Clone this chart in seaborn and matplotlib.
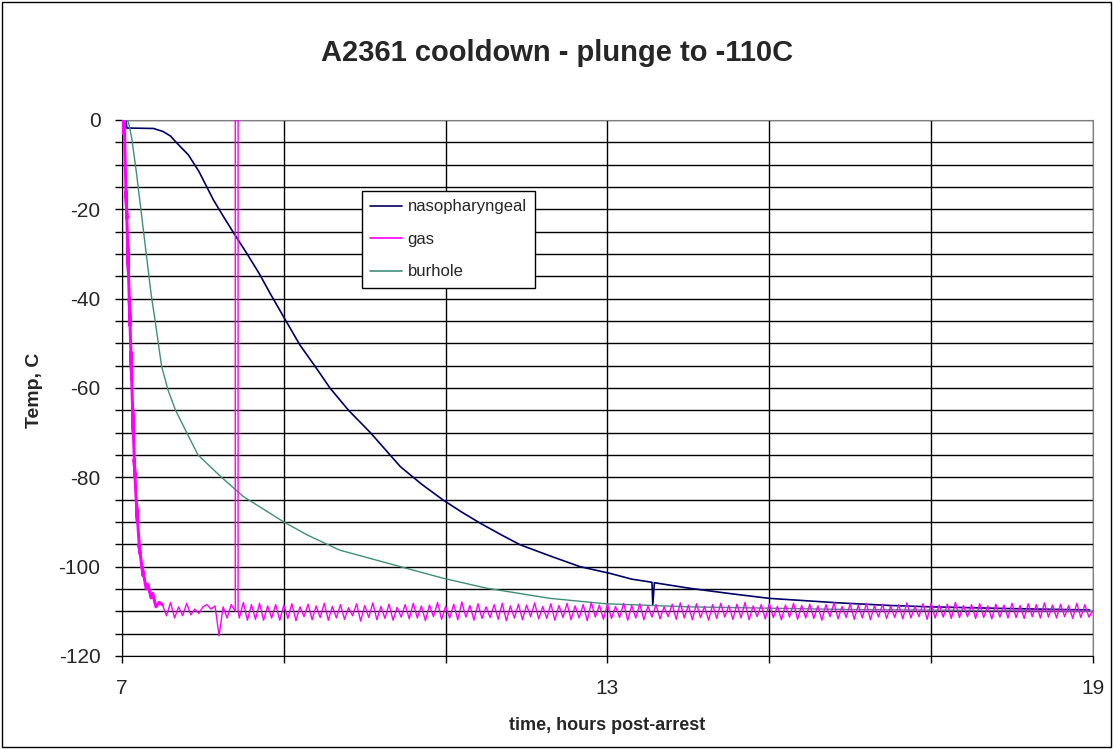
import numpy as np
import pandas as pd
import matplotlib
matplotlib.use("Agg")
import matplotlib.pyplot as plt
import seaborn as sns
from matplotlib.patches import Rectangle

# ---------------- data ----------------
TITULO = "A2361 cooldown - plunge to -110C"

naso_t = [7.02, 7.03, 7.05, 7.06, 7.39, 7.51, 7.60, 7.68, 7.82, 7.95, 8.13, 8.25,
          8.37, 8.54, 8.70, 8.83, 9.04, 9.20, 9.40, 9.57, 9.80, 10.07, 10.44, 10.70,
          10.97, 11.20, 11.43, 11.70, 11.92, 12.29, 12.66, 13.03, 13.30, 13.55, 13.56,
          13.58, 14.00, 14.50, 15.00, 15.85, 16.50, 17.00, 18.00, 18.96]
naso_v = [-1.0, 0.0, 0.0, -1.8, -1.9, -2.6, -3.6, -5.2, -7.8, -11.5, -17.9, -21.5,
          -25.0, -29.8, -34.5, -38.8, -45.4, -50.4, -55.5, -60.0, -65.0, -70.0, -77.6, -81.5,
          -85.1, -87.8, -90.3, -93.0, -95.1, -97.6, -100.0, -101.5, -102.8, -103.5, -108.6,
          -103.6, -104.8, -106.0, -107.1, -108.1, -108.7, -109.0, -109.4, -109.7]

bur_t = [7.05, 7.08, 7.12, 7.18, 7.24, 7.30, 7.36, 7.41, 7.49, 7.57, 7.66, 7.80, 7.94,
         8.23, 8.50, 9.00, 9.30, 9.69, 10.44, 10.97, 11.50, 12.29, 12.97, 14.00, 16.00, 19.00]
bur_v = [0.0, -0.5, -4.0, -12.0, -21.0, -30.0, -39.0, -45.0, -55.2, -60.5, -64.9, -70.0, -75.0,
         -80.0, -84.3, -90.0, -93.0, -96.3, -100.0, -102.6, -104.8, -107.1, -108.3, -109.0, -109.6, -110.0]

# gas: fast plunge at the start (noisy, so it reads as a thick band)
gas_head_t = [7.00, 7.01, 7.02, 7.03, 7.04, 7.06, 7.05, 7.08, 7.07, 7.10, 7.09, 7.12, 7.11,
              7.14, 7.13, 7.16, 7.15, 7.19, 7.18, 7.22, 7.21, 7.26, 7.25, 7.30, 7.32, 7.36,
              7.38, 7.42, 7.46]
gas_head_v = [-3.0, 0.0, -1.0, 0.0, -10.0, -22.0, -16.0, -34.0, -28.0, -46.0, -40.0, -58.0, -52.0,
              -70.0, -64.0, -80.0, -76.0, -90.0, -86.0, -97.0, -95.0, -102.0, -100.0, -105.0, -104.0, -107.0,
              -106.0, -109.0, -108.0]

# gas: logger noise from 7.50 h to 19.00 h, one reading every 0.05 h
gas_noise_start = 7.50
gas_noise_step = 0.05
gas_noise_v = [
    -108.5, -111.0, -108.0, -111.5, -109.0, -111.0, -108.2, -110.8, -109.5, -110.5,
    -109.0, -108.5, -109.5, -108.8, -115.5, -109.0, -111.5, -108.5, -110.0, -111.5,
    -108.0, -112.0, -108.5, -111.8, -108.2, -112.0, -108.8, -111.5, -108.5, -112.0,
    -108.6, -111.6, -108.3, -112.1, -109.0, -111.2, -108.4, -111.9, -108.8, -111.4,
    -108.2, -112.0, -108.9, -111.5, -108.5, -111.8, -109.2, -111.0, -108.3, -112.2,
    -108.7, -111.4, -108.1, -111.9, -108.9, -111.6, -108.4, -112.0, -109.1, -111.3,
    -108.5, -111.7, -108.2, -111.5, -108.8, -112.1, -108.6, -111.2, -108.0, -111.8,
    -108.9, -111.5, -108.4, -111.9, -107.9, -111.3, -108.7, -112.0, -108.3, -111.6,
    -109.0, -111.4, -108.5, -111.8, -108.2, -112.1, -108.8, -111.5, -108.4, -111.9,
    -108.6, -111.2, -108.1, -111.7, -108.9, -111.6, -108.3, -112.0, -108.7, -111.4,
    -108.2, -111.9, -108.8, -111.5, -108.5, -112.1, -108.0, -111.3, -108.6, -111.8,
    -108.4, -111.6, -108.9, -111.4, -108.2, -112.0, -108.7, -111.5, -108.3, -111.9,
    -108.8, -111.3, -108.5, -111.7, -109.0, -111.2, -108.4, -111.8, -108.1, -111.5,
    -108.6, -111.9, -108.3, -111.4, -108.9, -112.0, -108.5, -111.6, -108.2, -111.3,
    -108.7, -111.8, -108.4, -111.5, -108.0, -111.9, -108.8, -111.2, -108.5, -111.7,
    -108.3, -111.4, -108.9, -111.9, -108.6, -111.3, -108.2, -111.8, -108.7, -111.5,
    -108.4, -111.6, -108.8, -112.0, -108.5, -111.2, -108.1, -111.7, -108.9, -111.4,
    -108.3, -111.8, -108.6, -111.5, -108.2, -111.9, -108.7, -111.3, -108.4, -111.6,
    -108.8, -111.4, -108.5, -111.7, -108.1, -111.5, -108.9, -111.2, -108.3, -111.8,
    -108.2, -111.5, -108.6, -111.3, -108.4, -111.6, -108.0, -111.4, -108.7, -111.2,
    -108.5, -111.6, -108.3, -111.4, -108.8, -111.7, -108.4, -111.3, -108.6, -111.5,
    -108.2, -111.4, -108.7, -111.6, -108.3, -111.2, -108.5, -111.5, -108.1, -111.3,
    -108.6, -111.5, -108.4, -111.2, -108.7, -111.6, -108.2, -111.4, -108.5, -111.3,
    -109.8,
]

# gas: probe pulled out for a moment around 8.4 h
gas_spike_t = [8.40, 8.435, 8.435]
gas_spike_v = [0.0, 0.0, -110.0]

COLORES = {"nasopharyngeal": "#000066", "gas": "#ff00ff", "burhole": "#3f8f78"}

# ---------------- build gas series ----------------
noise_t = gas_noise_start + gas_noise_step * np.arange(len(gas_noise_v))
noise_v = np.array(gas_noise_v)
antes = noise_t <= 8.401
despues = noise_t > 8.44
gas_t = np.concatenate([noise_t[antes], gas_spike_t, noise_t[despues]])
gas_v = np.concatenate([noise_v[antes], gas_spike_v, noise_v[despues]])

# ---------------- plot ----------------
sns.set_style("white")
plt.rcParams["font.family"] = ["Liberation Sans", "DejaVu Sans"]
plt.rcParams["axes.unicode_minus"] = False

fig = plt.figure(figsize=(11.14, 7.49), dpi=100)
ax = fig.add_axes([0.1095, 0.1242, 0.8716, 0.7156])

sns.lineplot(x=naso_t, y=naso_v, ax=ax, color=COLORES["nasopharyngeal"], lw=1.2,
             estimator=None, sort=False, zorder=3)
sns.lineplot(x=bur_t, y=bur_v, ax=ax, color=COLORES["burhole"], lw=1.0,
             estimator=None, sort=False, zorder=3)
# plunge drawn a bit heavier: the dense readings there merge into a thick stroke
sns.lineplot(x=gas_head_t + [gas_noise_start], y=gas_head_v + [gas_noise_v[0]], ax=ax,
             color=COLORES["gas"], lw=2.2, estimator=None, sort=False, zorder=4)
sns.lineplot(x=gas_t, y=gas_v, ax=ax, color=COLORES["gas"], lw=1.0,
             estimator=None, sort=False, zorder=4)

ax.set_xlim(7, 19)
ax.set_ylim(-120, 0)
ax.set_xticks(range(7, 20, 2))
ax.set_xticklabels(["7", "", "", "13", "", "", "19"])
ax.set_yticks(range(-120, 1, 20))
ax.set_yticks(range(-120, 1, 5), minor=True)

ax.grid(which="both", axis="y", color="black", lw=1)
ax.grid(which="major", axis="x", color="black", lw=1)
for tk in ax.yaxis.get_major_ticks():
    if tk.get_loc() == 0:
        tk.gridline.set_visible(False)
ax.set_axisbelow(True)

ax.tick_params(which="both", direction="out", length=5, width=1, color="black",
               labelsize=15, left=True, bottom=True)
ax.tick_params(axis="y", pad=10.5)
ax.tick_params(axis="x", pad=11.5)
ax.tick_params(axis="x", which="minor", bottom=False)

for lado in ["left", "bottom"]:
    ax.spines[lado].set_color("black")
for lado in ["top", "right"]:
    ax.spines[lado].set_color("#808080")

fig.text(0.5, 0.929, TITULO, fontsize=21, fontweight="bold", ha="center", va="center")
ax.set_xlabel("time, hours post-arrest", fontsize=13, fontweight="bold")
ax.set_ylabel("Temp, C", fontsize=14, fontweight="bold")
ax.xaxis.set_label_coords(0.5, -0.129)
ax.yaxis.set_label_coords(-0.0896, 0.496)
ax.xaxis.label.set_va("center")
ax.yaxis.label.set_va("center")

handles = [plt.Line2D([], [], color=COLORES[k], lw=1.2) for k in ["nasopharyngeal", "gas", "burhole"]]
leg = ax.legend(handles, ["nasopharyngeal", "gas", "burhole"], loc="upper left",
                bbox_to_anchor=(0.247, 0.8675), borderaxespad=0, fontsize=12,
                frameon=True, fancybox=False, framealpha=1, edgecolor="black",
                handlelength=1.9, handletextpad=0.35, labelspacing=1.05, borderpad=0.5)
leg.get_frame().set_linewidth(1)
leg.set_zorder(10)

fig.patches.append(Rectangle((0.002, 0.003), 0.995, 0.994, transform=fig.transFigure,
                             fill=False, edgecolor="black", lw=1))

fig.savefig("out.png", dpi=100)
